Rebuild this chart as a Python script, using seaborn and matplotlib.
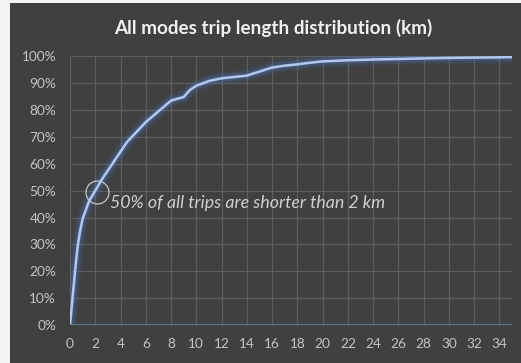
import matplotlib
matplotlib.use("Agg")
import matplotlib.pyplot as plt
import seaborn as sns
import pandas as pd
from matplotlib.patches import Rectangle
from matplotlib.ticker import MultipleLocator, PercentFormatter

# Cumulative share of trips by trip length (km)
km = [0, 0.2, 0.4, 0.6, 0.8, 1.0, 1.5, 2.0, 2.5, 3.0, 3.5, 4.0, 4.5, 5.0, 5.5,
      6.0, 6.5, 7.0, 7.5, 8.0, 8.5, 9.0, 9.5, 10, 11, 12, 13, 14, 15, 16, 17,
      18, 19, 20, 22, 24, 26, 28, 30, 32, 34, 35]
share = [0, 10, 20, 29, 35, 39.5, 46, 50, 54, 57.5, 61, 64.5, 68, 70.5, 73,
         75.5, 77.5, 79.5, 81.5, 83.5, 84.2, 84.8, 87.5, 89, 90.8, 91.8, 92.3,
         92.8, 94.3, 95.8, 96.5, 97, 97.6, 98.1, 98.5, 98.8, 99.0, 99.2, 99.4,
         99.5, 99.6, 99.7]
x_ticks = list(range(0, 35, 2))
title = "All modes trip length distribution (km)"
note = "50% of all trips are shorter than 2 km"

df = pd.DataFrame({"km": km, "share": share})

bg = "#404040"
sns.set_theme(style="dark")
plt.rcParams["font.family"] = ["Lato", "DejaVu Sans"]

fig = plt.figure(figsize=(5.21, 3.63), dpi=100, facecolor=bg)
# thin light margin on the left and top edges
fig.patches.append(Rectangle((0, 0), 10 / 521, 1, transform=fig.transFigure,
                             facecolor="#f4f4f4", edgecolor="none", zorder=-5))
fig.patches.append(Rectangle((0, 1 - 3 / 363), 1, 3 / 363, transform=fig.transFigure,
                             facecolor="#f4f4f4", edgecolor="none", zorder=-5))
ax = fig.add_axes([70 / 521, 38 / 363, (512 - 70) / 521, (325 - 57) / 363 + 0.002])
ax.set_facecolor(bg)

# soft glow under the line
for lw, a in [(10, 0.08), (7, 0.14), (4.5, 0.25)]:
    sns.lineplot(data=df, x="km", y="share", ax=ax, color="#4a78c8", linewidth=lw,
                 alpha=a, solid_capstyle="round", solid_joinstyle="round")
sns.lineplot(data=df, x="km", y="share", ax=ax, color="#b4c8ec", linewidth=1.8,
             solid_joinstyle="round")

ax.axhline(0, color="#5d7fa6", linewidth=2, zorder=3)

ax.set_xlim(0, 35)
ax.set_ylim(0, 100)
ax.set_xticks(x_ticks)
ax.yaxis.set_major_locator(MultipleLocator(10))
ax.yaxis.set_major_formatter(PercentFormatter(decimals=0))
ax.grid(True, color="#5e5e5e", linewidth=0.9)
ax.set_axisbelow(True)
for s in ax.spines.values():
    s.set_visible(False)
ax.tick_params(colors="#c4c4c4", labelsize=9.8, length=0)
ax.tick_params(axis="x", pad=9)
ax.tick_params(axis="y", pad=10)
ax.set_xlabel("")
ax.set_ylabel("")

# circle marking the 2 km point
ax.plot([2.1], [49.6], marker="o", markersize=16.5, markerfacecolor="none",
        markeredgecolor="#c8c8c8", markeredgewidth=0.9, zorder=5)
ax.text(3.15, 45.5, note, color="#d0d0d0", fontsize=12.8, style="italic",
        va="center", ha="left")

fig.text(0.525, 1 - 28 / 363, title, color="#f0f0f0", fontsize=13.6, fontweight="bold",
         ha="center", va="center")

fig.savefig("out.png", dpi=100, facecolor=fig.get_facecolor())
